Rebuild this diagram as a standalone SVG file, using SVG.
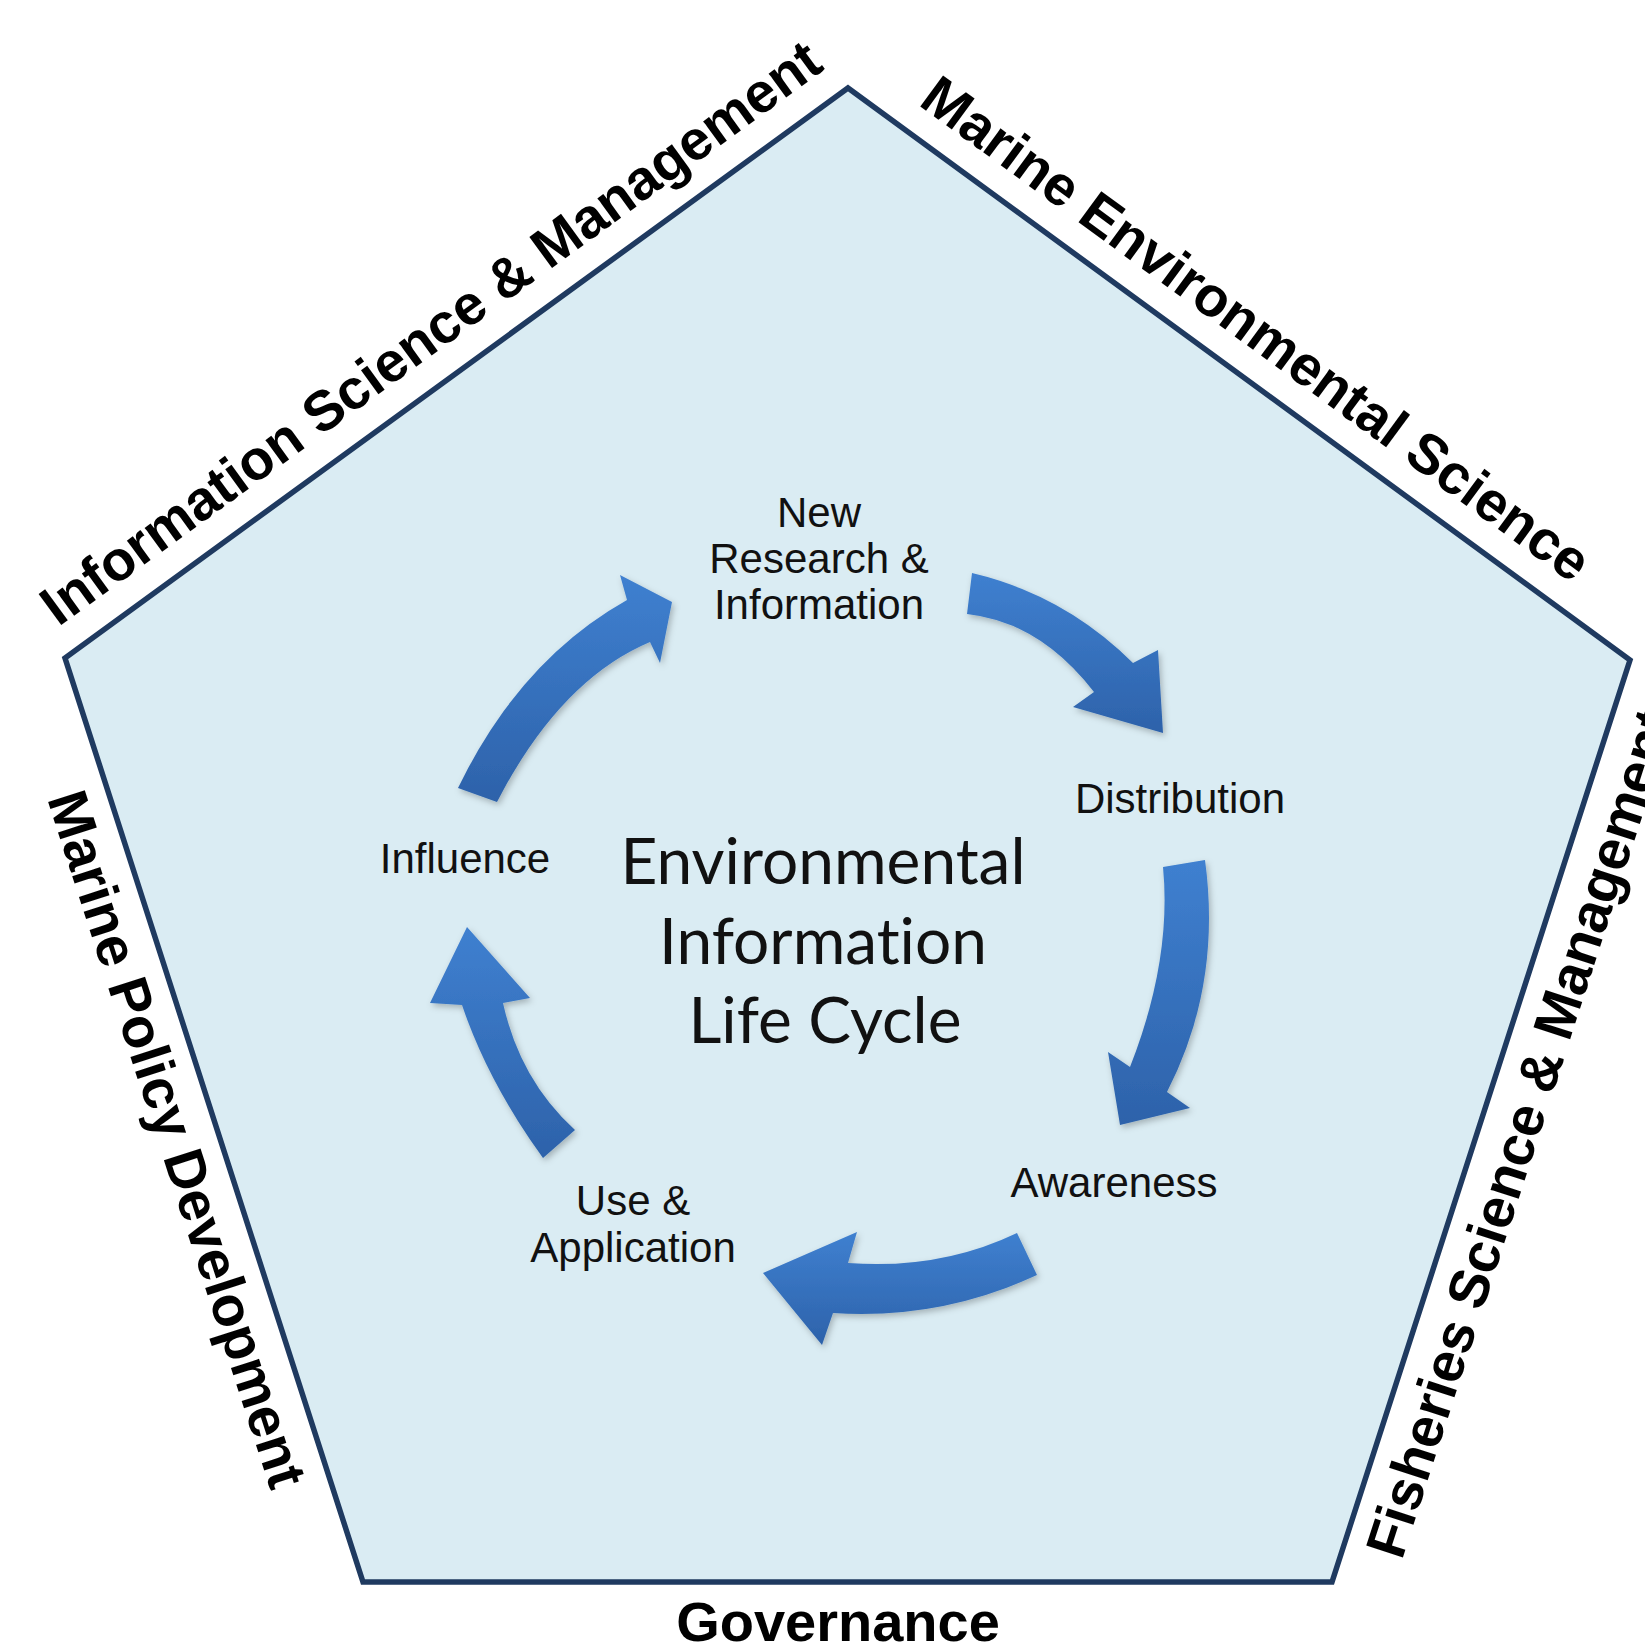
<svg xmlns="http://www.w3.org/2000/svg" width="1645" height="1650" viewBox="0 0 1645 1650">
<defs>
<style>
.edge{font-family:"Liberation Sans",Arial,sans-serif;font-weight:bold;font-size:56px;fill:#000;text-anchor:middle}
.lbl{font-family:"Liberation Sans",Arial,sans-serif;font-size:42px;fill:#111;text-anchor:middle}
.title{font-family:Lato,"Open Sans",sans-serif;font-size:64px;fill:#111;text-anchor:middle;font-variant-ligatures:none}
.arrow{fill:url(#ag);filter:url(#sh)}
</style>
<linearGradient id="ag" x1="0" y1="0" x2="0" y2="1">
<stop offset="0" stop-color="#3f80d0"/>
<stop offset="1" stop-color="#2d62aa"/>
</linearGradient>
<filter id="sh" x="-20%" y="-20%" width="140%" height="140%">
<feDropShadow dx="2" dy="3" stdDeviation="3" flood-color="#000" flood-opacity="0.25"/>
</filter>
</defs>
<rect width="1645" height="1650" fill="#ffffff"/>
<g id="pentagon">
<polygon points="848,88 1630,660 1332,1582 363,1582 65,658" fill="#daecf3" stroke="#1f3a60" stroke-width="5.5" stroke-linejoin="miter"/>
</g>
<g id="edge-labels">
<g id="label-info-science"><text class="edge" transform="translate(442,348) rotate(-36.05)">Information Science &amp; Management</text></g>
<g id="label-marine-env"><text class="edge" transform="translate(1245,344) rotate(36.2)">Marine Environmental Science</text></g>
<g id="label-fisheries"><text class="edge" transform="translate(1538,1139) rotate(-72.1)">Fisheries Science &amp; Management</text></g>
<g id="label-governance"><text class="edge" x="838" y="1641">Governance</text></g>
<g id="label-marine-policy"><text class="edge" transform="translate(159,1145) rotate(72.1)">Marine Policy Development</text></g>
</g>
<g id="title">
<text class="title" x="823" y="884">Environmental</text>
<text class="title" x="823" y="964">Information</text>
<text class="title" x="825" y="1043">Life Cycle</text>
</g>
<g id="node-new-research"><text class="lbl" x="819" y="527">New</text><text class="lbl" x="819" y="573">Research &amp;</text><text class="lbl" x="819" y="619">Information</text></g>
<g id="node-distribution"><text class="lbl" x="1180" y="813">Distribution</text></g>
<g id="node-awareness"><text class="lbl" x="1114" y="1197">Awareness</text></g>
<g id="node-use"><text class="lbl" x="633" y="1215">Use &amp;</text><text class="lbl" x="633" y="1262">Application</text></g>
<g id="node-influence"><text class="lbl" x="465" y="873">Influence</text></g>
<g id="connectors">
<path class="arrow" d="M 972 573 Q 1065 595 1133 663 L 1158 650 L 1163 733 L 1073 707 L 1094 692 Q 1040 622 967 614 Z"/>
<path class="arrow" d="M 1205 860 Q 1222 985 1167 1092 L 1190 1108 L 1120 1125 L 1108 1052 L 1130 1067 Q 1172 960 1163 867 Z"/>
<path class="arrow" d="M 1037 1275 Q 940 1320 833 1313 L 822 1345 L 763 1273 L 857 1232 L 848 1263 Q 940 1270 1017 1233 Z"/>
<path class="arrow" d="M 543 1158 Q 488 1082 462 1005 L 430 1003 L 467 927 L 530 998 L 503 1003 Q 520 1080 575 1130 Z"/>
<path class="arrow" d="M 458 788 Q 520 660 627 600 L 620 575 L 672 602 L 660 663 L 650 642 Q 560 680 497 802 Z"/>
</g>
</svg>
